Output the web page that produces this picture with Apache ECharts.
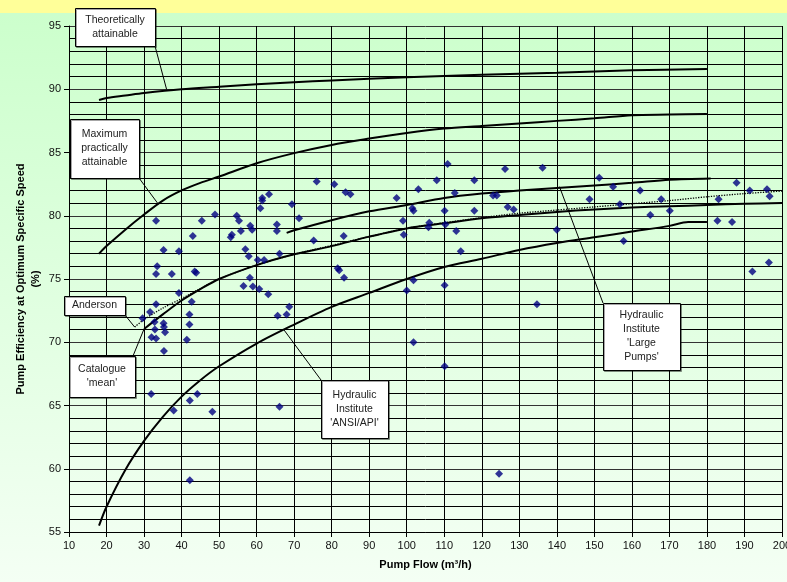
<!DOCTYPE html>
<html><head><meta charset="utf-8">
<script src="https://cdn.jsdelivr.net/npm/echarts@6/dist/echarts.min.js"></script>
<style>html,body{margin:0;padding:0;background:#fff;}#c{width:787px;height:582px;}</style>
</head><body><div id="c"></div>
<script>
// ---- Data ----
const theoFlow = [18, 20, 25, 30, 40, 50, 60, 70, 80, 100, 120, 140, 160, 180];
const theoEff  = [89.15, 89.3, 89.5, 89.7, 90.0, 90.2, 90.4, 90.55, 90.7, 90.95, 91.15, 91.3, 91.5, 91.6];

const maxFlow = [18, 20, 25, 30, 35, 40, 45, 50, 60, 70, 80, 90, 100, 110, 120, 130, 140, 150, 160, 170, 180];
const maxEff  = [77.0, 77.6, 78.9, 80.1, 81.2, 82.0, 82.6, 83.1, 84.15, 84.95, 85.6, 86.1, 86.55, 86.9, 87.1, 87.3, 87.5, 87.7, 87.95, 88.0, 88.05];

const largeFlow = [68, 70, 80, 90, 100, 110, 120, 130, 140, 150, 160, 170, 181];
const largeEff  = [78.65, 78.85, 79.65, 80.35, 80.85, 81.4, 81.75, 82.0, 82.2, 82.4, 82.6, 82.85, 82.95];

const catFlow = [30, 35, 40, 45, 50, 60, 70, 80, 90, 100, 110, 120, 130, 140, 150, 160, 170, 180, 190, 200];
const catEff  = [71.05, 72.2, 73.3, 74.2, 75.0, 76.1, 76.95, 77.6, 78.35, 79.0, 79.4, 79.8, 80.05, 80.3, 80.5, 80.65, 80.75, 80.85, 80.95, 81.0];

const andFlow = [27.5, 30, 35, 40, 45, 50, 60, 70, 80, 90, 100, 110, 120, 130, 140, 150, 160, 170, 180, 190, 200];
const andEff  = [71.2, 71.8, 72.7, 73.45, 74.25, 75.0, 76.1, 76.95, 77.65, 78.35, 79.0, 79.45, 79.85, 80.2, 80.45, 80.7, 80.95, 81.2, 81.5, 81.75, 81.95];

const ansiFlow = [18, 20, 25, 30, 35, 40, 45, 50, 60, 70, 80, 90, 100, 110, 120, 130, 140, 150, 160, 170, 175, 180];
const ansiEff  = [55.5, 57.0, 59.9, 62.2, 64.1, 65.7, 67.0, 68.1, 69.9, 71.4, 72.8, 73.9, 75.0, 75.95, 76.6, 77.3, 77.85, 78.3, 78.75, 79.2, 79.5, 79.5];

const pumpFlow = [33.2, 45.4, 48.9, 43.0, 53.1, 53.4, 35.2, 39.3, 33.5, 33.2, 37.4, 43.5, 43.9, 39.3, 42.7, 33.2, 31.6, 29.6, 42.1, 32.8,
  35.2, 32.9, 35.3, 35.6, 42.1, 32.0, 33.2, 41.4, 35.3, 31.9, 37.9, 42.2, 44.2, 48.2, 42.2, 66.1, 101.8, 110.1, 124.6, 134.7,
  76.0, 80.7, 83.7, 85.0, 63.3, 61.5, 61.5, 61.0, 69.4, 71.3, 54.7, 55.3, 65.4, 65.4, 58.3, 58.8, 55.8, 75.2, 83.2, 57.0,
  57.9, 60.3, 62.0, 66.1, 81.6, 82.0, 83.3, 58.2, 56.5, 59.0, 60.7, 63.1, 68.7, 65.6, 68.0,
  110.9, 108.0, 118.0, 103.1, 97.3, 112.8, 123.0, 124.0, 101.5, 101.8, 110.1, 118.0, 99.0, 106.0, 105.8, 110.3, 113.2, 99.2, 114.4, 101.8, 110.1, 100.0,
  126.2, 136.2, 151.3, 155.0, 162.2, 126.9, 128.5, 148.7, 156.8, 140.0, 157.8,
  187.9, 191.4, 196.0, 196.7, 167.8, 183.1, 164.9, 170.1, 182.8, 186.7, 192.1, 196.5];
const pumpEff = [79.6, 79.6, 80.1, 78.4, 78.3, 78.5, 77.3, 77.2, 76.0, 75.4, 75.4, 75.6, 75.5, 73.9, 73.2, 73.0, 72.4, 71.9, 72.2, 71.6,
  71.5, 71.0, 71.2, 70.8, 71.4, 70.4, 70.3, 70.2, 69.3, 65.9, 64.6, 65.4, 65.9, 64.5, 59.1, 64.9, 70.0, 68.1, 59.6, 73.0,
  82.7, 82.5, 81.85, 81.7, 81.7, 81.4, 81.2, 80.6, 80.9, 79.8, 80.0, 79.6, 79.3, 78.8, 79.2, 78.9, 78.8, 78.05, 78.4, 77.35,
  76.8, 76.5, 76.5, 77.0, 75.85, 75.7, 75.1, 75.1, 74.45, 74.4, 74.2, 73.8, 72.8, 72.1, 72.2,
  84.1, 82.8, 82.8, 82.1, 81.4, 81.8, 81.6, 81.6, 80.6, 80.4, 80.4, 80.4, 79.6, 79.45, 79.1, 79.3, 78.8, 78.5, 77.2, 74.9, 74.5, 74.1,
  83.7, 83.8, 83.0, 82.3, 82.0, 80.7, 80.5, 81.3, 80.9, 78.9, 78.0,
  82.6, 82.0, 82.1, 81.55, 81.3, 81.3, 80.06, 80.4, 79.6, 79.5, 75.6, 76.3];

// callouts: text, box [x, y, w, h] (layout), leader start on box, target in data units
const callouts = [
  { text: 'Theoretically\nattainable', box: [75, 8, 80, 38], from: [155, 46], to: [36, 90.0] },
  { text: 'Maximum\npractically\nattainable', box: [70, 119, 69, 59], from: [139, 178], to: [33.6, 81.0] },
  { text: 'Anderson', box: [64, 296, 61, 19], from: [125, 315], to: [27.5, 71.2] },
  { text: 'Catalogue\n\'mean\'', box: [69, 356, 66, 41], from: [133, 356], to: [30, 71.05] },
  { text: 'Hydraulic\nInstitute\n\'ANSI/API\'', box: [321, 380, 67, 58], from: [321, 380], to: [67.1, 71.05] },
  { text: 'Hydraulic\nInstitute\n\'Large\nPumps\'', box: [603, 303, 77, 67], from: [603, 303], to: [140.7, 82.3] }
];

const zip = (a, b) => a.map((v, i) => [v, b[i]]);
const FONT = '"Liberation Sans", Arial, sans-serif';

const chart = echarts.init(document.getElementById('c'), null, { renderer: 'canvas' });

const lineSeries = (name, xs, ys, type) => ({
  name, type: 'line', data: zip(xs, ys), showSymbol: false, symbol: 'none', smooth: 0.3,
  lineStyle: { color: '#000', width: type === 'dotted' ? 1.3 : 2, type: type || 'solid' },
  z: type === 'dotted' ? 4 : 3, silent: true
});

const option = {
  animation: false,
  backgroundColor: {
    type: 'linear', x: 0, y: 0, x2: 0, y2: 1,
    colorStops: [
      { offset: 0, color: '#ffff99' }, { offset: 0.0225, color: '#ffff99' },
      { offset: 0.0226, color: '#ccffcc' }, { offset: 1, color: '#f4fff4' }
    ]
  },
  grid: { left: 69, right: 5, top: 26, bottom: 50, containLabel: false, outerBoundsMode: 'none' },
  xAxis: {
    type: 'value', min: 10, max: 200, interval: 10,
    name: 'Pump Flow (m³/h)', nameLocation: 'middle', nameGap: 27, nameMoveOverlap: false,
    nameTextStyle: { fontFamily: FONT, fontSize: 11, fontWeight: 'bold', color: '#000' },
    axisLine: { show: true, lineStyle: { color: '#000', width: 1 } },
    axisTick: { show: true, length: 5, lineStyle: { color: '#000' } },
    axisLabel: { fontFamily: FONT, fontSize: 11, color: '#111', margin: 8, hideOverlap: false },
    splitLine: { show: true, lineStyle: { color: '#000', width: 1 } }
  },
  yAxis: {
    type: 'value', min: 55, max: 95, interval: 5,
    name: 'Pump Efficiency at Optimum Specific Speed\n(%)', nameLocation: 'middle', nameGap: 26, nameMoveOverlap: false,
    nameTextStyle: { fontFamily: FONT, fontSize: 11, fontWeight: 'bold', color: '#000', lineHeight: 15 },
    axisLine: { show: true, lineStyle: { color: '#000', width: 1 } },
    axisTick: { show: true, length: 5, lineStyle: { color: '#000' } },
    axisLabel: { fontFamily: FONT, fontSize: 11, color: '#111', margin: 8 },
    splitLine: { show: true, lineStyle: { color: '#333', width: 1 } },
    minorTick: { show: false, splitNumber: 5 },
    minorSplitLine: { show: true, lineStyle: { color: '#000', width: 1 } }
  },
  series: [
    lineSeries('Theoretically attainable', theoFlow, theoEff),
    lineSeries('Maximum practically attainable', maxFlow, maxEff),
    lineSeries("Hydraulic Institute 'Large Pumps'", largeFlow, largeEff),
    lineSeries("Catalogue 'mean'", catFlow, catEff),
    lineSeries('Anderson', andFlow, andEff, 'dotted'),
    lineSeries("Hydraulic Institute 'ANSI/API'", ansiFlow, ansiEff),
    {
      name: 'Pumps', type: 'scatter', data: zip(pumpFlow, pumpEff),
      symbol: 'diamond', symbolSize: 8, itemStyle: { color: '#000080' }, z: 5, silent: true
    }
  ]
};
chart.setOption(option);

const g = [];
callouts.forEach(c => {
  const p = chart.convertToPixel({ gridIndex: 0 }, c.to);
  g.push({ type: 'line', z: 20, shape: { x1: c.from[0], y1: c.from[1], x2: p[0], y2: p[1] },
    style: { stroke: '#000', lineWidth: 1 } });
  g.push({ type: 'rect', z: 21, shape: { x: c.box[0] + 0.5, y: c.box[1] + 0.5, width: c.box[2], height: c.box[3] },
    style: { fill: '#fff', stroke: '#000', lineWidth: 1, shadowColor: 'rgba(0,0,0,0.35)', shadowOffsetX: 1, shadowOffsetY: 1, shadowBlur: 0 } });
  g.push({ type: 'text', z: 22, x: c.box[0] + c.box[2] / 2, y: c.box[1] + c.box[3] / 2,
    style: { text: c.text, fill: '#222', font: '10.5px ' + FONT, align: 'center', verticalAlign: 'middle',
      textAlign: 'center', textVerticalAlign: 'middle', lineHeight: 14 } });
});
chart.setOption({ graphic: g });
</script>
</body></html>
